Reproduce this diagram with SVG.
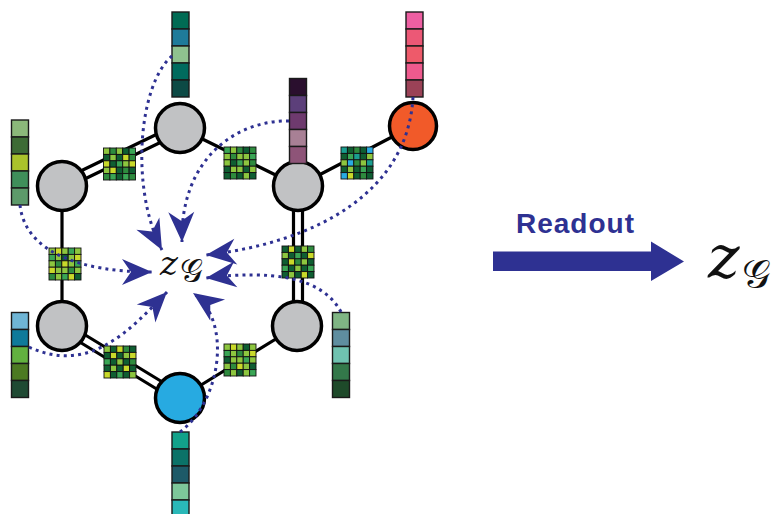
<svg xmlns="http://www.w3.org/2000/svg" width="775" height="514" viewBox="0 0 775 514">
  <style>
    .edge { stroke: #000; stroke-width: 3.2; fill: none; stroke-linecap: round; }
    .node { stroke: #000; stroke-width: 3.5; }
    .gray { fill: #c1c2c4; }
    .cell { stroke: #1a1a1a; stroke-width: 1.4; }
    .mx rect { stroke: #111; stroke-width: 0.9; }
    .g1 { fill: #0f5e32; } .g2 { fill: #2e8b3e; } .g3 { fill: #8dc63f; }
    .g4 { fill: #c9d92a; } .g5 { fill: #3aa655; } .g6 { fill: #1a9e8f; }
    .g7 { fill: #29abe2; }
    .flow { stroke: #2e3192; stroke-width: 3; fill: none; stroke-dasharray: 3 4.2; marker-end: url(#head); }
    .math { font-family: "DejaVu Serif", "Liberation Serif", serif; font-style: italic; fill: #111; }
    .script { font-family: "DejaVu Serif", "DejaVu Sans", "Liberation Serif", serif; fill: #111; }
  </style>
  <defs>
    <marker id="head" viewBox="0 0 30 26" refX="30" refY="13" markerWidth="30" markerHeight="26" markerUnits="userSpaceOnUse" orient="auto" overflow="visible">
      <path d="M0,0 L30,13 L0,26 L9,13 Z" fill="#2e3192"/>
    </marker>
  </defs>

  <rect width="775" height="514" fill="#fff"/>

  <!-- graph bonds -->
  <g id="bonds">
    <line class="edge" x1="182" y1="132" x2="64" y2="189"/>
    <line class="edge" x1="178" y1="124" x2="60" y2="181"/>
    <line class="edge" x1="180" y1="128" x2="298" y2="186"/>
    <line class="edge" x1="298" y1="186" x2="413" y2="126"/>
    <line class="edge" x1="62" y1="186" x2="62" y2="326"/>
    <line class="edge" x1="293.5" y1="186" x2="293.5" y2="326"/>
    <line class="edge" x1="302.5" y1="186" x2="302.5" y2="326"/>
    <line class="edge" x1="60" y1="330" x2="178" y2="402"/>
    <line class="edge" x1="64" y1="322" x2="182" y2="394"/>
    <line class="edge" x1="297" y1="326" x2="180" y2="398"/>
  </g>

  <!-- edge feature matrices -->
  <g id="edge-m1" class="mx" transform="translate(103.5,148)">
    <rect class="g3" x="0" y="0" width="6.4" height="6.4"/><rect class="g2" x="6.4" y="0" width="6.4" height="6.4"/><rect class="g3" x="12.8" y="0" width="6.4" height="6.4"/><rect class="g1" x="19.2" y="0" width="6.4" height="6.4"/><rect class="g5" x="25.6" y="0" width="6.4" height="6.4"/>
    <rect class="g1" x="0" y="6.4" width="6.4" height="6.4"/><rect class="g3" x="6.4" y="6.4" width="6.4" height="6.4"/><rect class="g1" x="12.8" y="6.4" width="6.4" height="6.4"/><rect class="g4" x="19.2" y="6.4" width="6.4" height="6.4"/><rect class="g2" x="25.6" y="6.4" width="6.4" height="6.4"/>
    <rect class="g4" x="0" y="12.8" width="6.4" height="6.4"/><rect class="g1" x="6.4" y="12.8" width="6.4" height="6.4"/><rect class="g5" x="12.8" y="12.8" width="6.4" height="6.4"/><rect class="g3" x="19.2" y="12.8" width="6.4" height="6.4"/><rect class="g4" x="25.6" y="12.8" width="6.4" height="6.4"/>
    <rect class="g3" x="0" y="19.2" width="6.4" height="6.4"/><rect class="g4" x="6.4" y="19.2" width="6.4" height="6.4"/><rect class="g1" x="12.8" y="19.2" width="6.4" height="6.4"/><rect class="g2" x="19.2" y="19.2" width="6.4" height="6.4"/><rect class="g1" x="25.6" y="19.2" width="6.4" height="6.4"/>
    <rect class="g2" x="0" y="25.6" width="6.4" height="6.4"/><rect class="g5" x="6.4" y="25.6" width="6.4" height="6.4"/><rect class="g1" x="12.8" y="25.6" width="6.4" height="6.4"/><rect class="g5" x="19.2" y="25.6" width="6.4" height="6.4"/><rect class="g2" x="25.6" y="25.6" width="6.4" height="6.4"/>
  </g>
  <g id="edge-m2" class="mx" transform="translate(224,147)">
    <rect class="g5" x="0" y="0" width="6.4" height="6.4"/><rect class="g3" x="6.4" y="0" width="6.4" height="6.4"/><rect class="g2" x="12.8" y="0" width="6.4" height="6.4"/><rect class="g1" x="19.2" y="0" width="6.4" height="6.4"/><rect class="g2" x="25.6" y="0" width="6.4" height="6.4"/>
    <rect class="g3" x="0" y="6.4" width="6.4" height="6.4"/><rect class="g2" x="6.4" y="6.4" width="6.4" height="6.4"/><rect class="g3" x="12.8" y="6.4" width="6.4" height="6.4"/><rect class="g3" x="19.2" y="6.4" width="6.4" height="6.4"/><rect class="g5" x="25.6" y="6.4" width="6.4" height="6.4"/>
    <rect class="g3" x="0" y="12.8" width="6.4" height="6.4"/><rect class="g1" x="6.4" y="12.8" width="6.4" height="6.4"/><rect class="g5" x="12.8" y="12.8" width="6.4" height="6.4"/><rect class="g3" x="19.2" y="12.8" width="6.4" height="6.4"/><rect class="g2" x="25.6" y="12.8" width="6.4" height="6.4"/>
    <rect class="g1" x="0" y="19.2" width="6.4" height="6.4"/><rect class="g3" x="6.4" y="19.2" width="6.4" height="6.4"/><rect class="g3" x="12.8" y="19.2" width="6.4" height="6.4"/><rect class="g1" x="19.2" y="19.2" width="6.4" height="6.4"/><rect class="g3" x="25.6" y="19.2" width="6.4" height="6.4"/>
    <rect class="g1" x="0" y="25.6" width="6.4" height="6.4"/><rect class="g2" x="6.4" y="25.6" width="6.4" height="6.4"/><rect class="g1" x="12.8" y="25.6" width="6.4" height="6.4"/><rect class="g3" x="19.2" y="25.6" width="6.4" height="6.4"/><rect class="g1" x="25.6" y="25.6" width="6.4" height="6.4"/>
  </g>
  <g id="edge-m3" class="mx" transform="translate(341,147)">
    <rect class="g6" x="0" y="0" width="6.4" height="6.4"/><rect class="g1" x="6.4" y="0" width="6.4" height="6.4"/><rect class="g2" x="12.8" y="0" width="6.4" height="6.4"/><rect class="g1" x="19.2" y="0" width="6.4" height="6.4"/><rect class="g7" x="25.6" y="0" width="6.4" height="6.4"/>
    <rect class="g1" x="0" y="6.4" width="6.4" height="6.4"/><rect class="g5" x="6.4" y="6.4" width="6.4" height="6.4"/><rect class="g6" x="12.8" y="6.4" width="6.4" height="6.4"/><rect class="g1" x="19.2" y="6.4" width="6.4" height="6.4"/><rect class="g3" x="25.6" y="6.4" width="6.4" height="6.4"/>
    <rect class="g3" x="0" y="12.8" width="6.4" height="6.4"/><rect class="g7" x="6.4" y="12.8" width="6.4" height="6.4"/><rect class="g2" x="12.8" y="12.8" width="6.4" height="6.4"/><rect class="g3" x="19.2" y="12.8" width="6.4" height="6.4"/><rect class="g6" x="25.6" y="12.8" width="6.4" height="6.4"/>
    <rect class="g1" x="0" y="19.2" width="6.4" height="6.4"/><rect class="g3" x="6.4" y="19.2" width="6.4" height="6.4"/><rect class="g1" x="12.8" y="19.2" width="6.4" height="6.4"/><rect class="g5" x="19.2" y="19.2" width="6.4" height="6.4"/><rect class="g1" x="25.6" y="19.2" width="6.4" height="6.4"/>
    <rect class="g7" x="0" y="25.6" width="6.4" height="6.4"/><rect class="g4" x="6.4" y="25.6" width="6.4" height="6.4"/><rect class="g1" x="12.8" y="25.6" width="6.4" height="6.4"/><rect class="g2" x="19.2" y="25.6" width="6.4" height="6.4"/><rect class="g1" x="25.6" y="25.6" width="6.4" height="6.4"/>
  </g>
  <g id="edge-m4" class="mx" transform="translate(49,248)">
    <rect class="g3" x="0" y="0" width="6.4" height="6.4"/><rect class="g4" x="6.4" y="0" width="6.4" height="6.4"/><rect class="g3" x="12.8" y="0" width="6.4" height="6.4"/><rect class="g5" x="19.2" y="0" width="6.4" height="6.4"/><rect class="g3" x="25.6" y="0" width="6.4" height="6.4"/>
    <rect class="g5" x="0" y="6.4" width="6.4" height="6.4"/><rect class="g3" x="6.4" y="6.4" width="6.4" height="6.4"/><rect class="g1" x="12.8" y="6.4" width="6.4" height="6.4"/><rect class="g3" x="19.2" y="6.4" width="6.4" height="6.4"/><rect class="g4" x="25.6" y="6.4" width="6.4" height="6.4"/>
    <rect class="g3" x="0" y="12.8" width="6.4" height="6.4"/><rect class="g2" x="6.4" y="12.8" width="6.4" height="6.4"/><rect class="g4" x="12.8" y="12.8" width="6.4" height="6.4"/><rect class="g3" x="19.2" y="12.8" width="6.4" height="6.4"/><rect class="g5" x="25.6" y="12.8" width="6.4" height="6.4"/>
    <rect class="g4" x="0" y="19.2" width="6.4" height="6.4"/><rect class="g3" x="6.4" y="19.2" width="6.4" height="6.4"/><rect class="g3" x="12.8" y="19.2" width="6.4" height="6.4"/><rect class="g2" x="19.2" y="19.2" width="6.4" height="6.4"/><rect class="g3" x="25.6" y="19.2" width="6.4" height="6.4"/>
    <rect class="g2" x="0" y="25.6" width="6.4" height="6.4"/><rect class="g3" x="6.4" y="25.6" width="6.4" height="6.4"/><rect class="g5" x="12.8" y="25.6" width="6.4" height="6.4"/><rect class="g4" x="19.2" y="25.6" width="6.4" height="6.4"/><rect class="g1" x="25.6" y="25.6" width="6.4" height="6.4"/>
  </g>
  <g id="edge-m5" class="mx" transform="translate(282,246)">
    <rect class="g1" x="0" y="0" width="6.4" height="6.4"/><rect class="g4" x="6.4" y="0" width="6.4" height="6.4"/><rect class="g1" x="12.8" y="0" width="6.4" height="6.4"/><rect class="g3" x="19.2" y="0" width="6.4" height="6.4"/><rect class="g2" x="25.6" y="0" width="6.4" height="6.4"/>
    <rect class="g3" x="0" y="6.4" width="6.4" height="6.4"/><rect class="g1" x="6.4" y="6.4" width="6.4" height="6.4"/><rect class="g5" x="12.8" y="6.4" width="6.4" height="6.4"/><rect class="g1" x="19.2" y="6.4" width="6.4" height="6.4"/><rect class="g4" x="25.6" y="6.4" width="6.4" height="6.4"/>
    <rect class="g1" x="0" y="12.8" width="6.4" height="6.4"/><rect class="g4" x="6.4" y="12.8" width="6.4" height="6.4"/><rect class="g2" x="12.8" y="12.8" width="6.4" height="6.4"/><rect class="g3" x="19.2" y="12.8" width="6.4" height="6.4"/><rect class="g1" x="25.6" y="12.8" width="6.4" height="6.4"/>
    <rect class="g5" x="0" y="19.2" width="6.4" height="6.4"/><rect class="g1" x="6.4" y="19.2" width="6.4" height="6.4"/><rect class="g3" x="12.8" y="19.2" width="6.4" height="6.4"/><rect class="g1" x="19.2" y="19.2" width="6.4" height="6.4"/><rect class="g5" x="25.6" y="19.2" width="6.4" height="6.4"/>
    <rect class="g1" x="0" y="25.6" width="6.4" height="6.4"/><rect class="g3" x="6.4" y="25.6" width="6.4" height="6.4"/><rect class="g1" x="12.8" y="25.6" width="6.4" height="6.4"/><rect class="g4" x="19.2" y="25.6" width="6.4" height="6.4"/><rect class="g1" x="25.6" y="25.6" width="6.4" height="6.4"/>
  </g>
  <g id="edge-m6" class="mx" transform="translate(104,346)">
    <rect class="g3" x="0" y="0" width="6.4" height="6.4"/><rect class="g1" x="6.4" y="0" width="6.4" height="6.4"/><rect class="g4" x="12.8" y="0" width="6.4" height="6.4"/><rect class="g2" x="19.2" y="0" width="6.4" height="6.4"/><rect class="g1" x="25.6" y="0" width="6.4" height="6.4"/>
    <rect class="g1" x="0" y="6.4" width="6.4" height="6.4"/><rect class="g4" x="6.4" y="6.4" width="6.4" height="6.4"/><rect class="g1" x="12.8" y="6.4" width="6.4" height="6.4"/><rect class="g3" x="19.2" y="6.4" width="6.4" height="6.4"/><rect class="g4" x="25.6" y="6.4" width="6.4" height="6.4"/>
    <rect class="g5" x="0" y="12.8" width="6.4" height="6.4"/><rect class="g1" x="6.4" y="12.8" width="6.4" height="6.4"/><rect class="g3" x="12.8" y="12.8" width="6.4" height="6.4"/><rect class="g1" x="19.2" y="12.8" width="6.4" height="6.4"/><rect class="g2" x="25.6" y="12.8" width="6.4" height="6.4"/>
    <rect class="g1" x="0" y="19.2" width="6.4" height="6.4"/><rect class="g3" x="6.4" y="19.2" width="6.4" height="6.4"/><rect class="g1" x="12.8" y="19.2" width="6.4" height="6.4"/><rect class="g4" x="19.2" y="19.2" width="6.4" height="6.4"/><rect class="g1" x="25.6" y="19.2" width="6.4" height="6.4"/>
    <rect class="g4" x="0" y="25.6" width="6.4" height="6.4"/><rect class="g1" x="6.4" y="25.6" width="6.4" height="6.4"/><rect class="g5" x="12.8" y="25.6" width="6.4" height="6.4"/><rect class="g1" x="19.2" y="25.6" width="6.4" height="6.4"/><rect class="g3" x="25.6" y="25.6" width="6.4" height="6.4"/>
  </g>
  <g id="edge-m7" class="mx" transform="translate(224,344)">
    <rect class="g3" x="0" y="0" width="6.4" height="6.4"/><rect class="g4" x="6.4" y="0" width="6.4" height="6.4"/><rect class="g3" x="12.8" y="0" width="6.4" height="6.4"/><rect class="g1" x="19.2" y="0" width="6.4" height="6.4"/><rect class="g3" x="25.6" y="0" width="6.4" height="6.4"/>
    <rect class="g5" x="0" y="6.4" width="6.4" height="6.4"/><rect class="g3" x="6.4" y="6.4" width="6.4" height="6.4"/><rect class="g2" x="12.8" y="6.4" width="6.4" height="6.4"/><rect class="g3" x="19.2" y="6.4" width="6.4" height="6.4"/><rect class="g4" x="25.6" y="6.4" width="6.4" height="6.4"/>
    <rect class="g1" x="0" y="12.8" width="6.4" height="6.4"/><rect class="g3" x="6.4" y="12.8" width="6.4" height="6.4"/><rect class="g3" x="12.8" y="12.8" width="6.4" height="6.4"/><rect class="g5" x="19.2" y="12.8" width="6.4" height="6.4"/><rect class="g3" x="25.6" y="12.8" width="6.4" height="6.4"/>
    <rect class="g3" x="0" y="19.2" width="6.4" height="6.4"/><rect class="g2" x="6.4" y="19.2" width="6.4" height="6.4"/><rect class="g4" x="12.8" y="19.2" width="6.4" height="6.4"/><rect class="g3" x="19.2" y="19.2" width="6.4" height="6.4"/><rect class="g1" x="25.6" y="19.2" width="6.4" height="6.4"/>
    <rect class="g2" x="0" y="25.6" width="6.4" height="6.4"/><rect class="g3" x="6.4" y="25.6" width="6.4" height="6.4"/><rect class="g1" x="12.8" y="25.6" width="6.4" height="6.4"/><rect class="g3" x="19.2" y="25.6" width="6.4" height="6.4"/><rect class="g5" x="25.6" y="25.6" width="6.4" height="6.4"/>
  </g>

  <!-- atoms -->
  <g id="atom-top"><circle class="node gray" cx="180" cy="128" r="24.5"/></g>
  <g id="atom-upper-right"><circle class="node gray" cx="298" cy="186" r="24.5"/></g>
  <g id="atom-left-upper"><circle class="node gray" cx="62" cy="186" r="24.5"/></g>
  <g id="atom-left-lower"><circle class="node gray" cx="62" cy="326" r="24.5"/></g>
  <g id="atom-right-lower"><circle class="node gray" cx="297" cy="326" r="24.5"/></g>
  <g id="atom-orange"><circle class="node" cx="413" cy="126" r="23.5" fill="#f15a29"/></g>
  <g id="atom-blue"><circle class="node" cx="180" cy="398" r="24.5" fill="#27aae1"/></g>

  <!-- node feature vectors -->
  <g id="vec-top">
    <rect class="cell" x="172" y="12" width="17" height="17" fill="#006b54"/>
    <rect class="cell" x="172" y="29" width="17" height="17" fill="#1f7b9a"/>
    <rect class="cell" x="172" y="46" width="17" height="17" fill="#8fc28f"/>
    <rect class="cell" x="172" y="63" width="17" height="17" fill="#006b5e"/>
    <rect class="cell" x="172" y="80" width="17" height="17" fill="#0d4a45"/>
  </g>
  <g id="vec-orange">
    <rect class="cell" x="406" y="12" width="17" height="17" fill="#ee5fa2"/>
    <rect class="cell" x="406" y="29" width="17" height="17" fill="#ec5876"/>
    <rect class="cell" x="406" y="46" width="17" height="17" fill="#ee5a6a"/>
    <rect class="cell" x="406" y="63" width="17" height="17" fill="#ef5a8e"/>
    <rect class="cell" x="406" y="80" width="17" height="17" fill="#9b4257"/>
  </g>
  <g id="vec-purple">
    <rect class="cell" x="289.5" y="78.5" width="17" height="17" fill="#2a0f2e"/>
    <rect class="cell" x="289.5" y="95.5" width="17" height="17" fill="#5c3f7a"/>
    <rect class="cell" x="289.5" y="112.5" width="17" height="17" fill="#6e3a6e"/>
    <rect class="cell" x="289.5" y="129.5" width="17" height="17" fill="#a88095"/>
    <rect class="cell" x="289.5" y="146.5" width="17" height="17" fill="#8e5478"/>
  </g>
  <g id="vec-left-upper">
    <rect class="cell" x="11.5" y="120" width="17" height="17" fill="#8bb87a"/>
    <rect class="cell" x="11.5" y="137" width="17" height="17" fill="#3d6b35"/>
    <rect class="cell" x="11.5" y="154" width="17" height="17" fill="#aac22c"/>
    <rect class="cell" x="11.5" y="171" width="17" height="17" fill="#3f8f5a"/>
    <rect class="cell" x="11.5" y="188" width="17" height="17" fill="#5d9a6a"/>
  </g>
  <g id="vec-left-lower">
    <rect class="cell" x="11.5" y="312.5" width="17" height="17" fill="#6fb5d5"/>
    <rect class="cell" x="11.5" y="329.5" width="17" height="17" fill="#0f7a9a"/>
    <rect class="cell" x="11.5" y="346.5" width="17" height="17" fill="#62b13f"/>
    <rect class="cell" x="11.5" y="363.5" width="17" height="17" fill="#4c7a22"/>
    <rect class="cell" x="11.5" y="380.5" width="17" height="17" fill="#1f4a33"/>
  </g>
  <g id="vec-right-lower">
    <rect class="cell" x="332.5" y="312.5" width="17" height="17" fill="#7fb584"/>
    <rect class="cell" x="332.5" y="329.5" width="17" height="17" fill="#5f8ea0"/>
    <rect class="cell" x="332.5" y="346.5" width="17" height="17" fill="#6fc2b0"/>
    <rect class="cell" x="332.5" y="363.5" width="17" height="17" fill="#33784a"/>
    <rect class="cell" x="332.5" y="380.5" width="17" height="17" fill="#1e4a2a"/>
  </g>
  <g id="vec-bottom">
    <rect class="cell" x="172" y="432" width="17" height="17" fill="#12a28a"/>
    <rect class="cell" x="172" y="449" width="17" height="17" fill="#0b7268"/>
    <rect class="cell" x="172" y="466" width="17" height="17" fill="#1d5a68"/>
    <rect class="cell" x="172" y="483" width="17" height="17" fill="#7dc79a"/>
    <rect class="cell" x="172" y="500" width="17" height="17" fill="#2ab8b8"/>
  </g>

  <!-- aggregation flows into the graph embedding -->
  <g id="connectors">
    <path class="flow" d="M172,56 C138,85 130,190 162,250"/>
    <path class="flow" d="M289,121 C235,120 180,160 182,242"/>
    <path class="flow" d="M413,97 C408,190 320,242 206,255"/>
    <path class="flow" d="M341,312 C322,276 270,270 206,278"/>
    <path class="flow" d="M20,205 C25,252 80,272 152,272"/>
    <path class="flow" d="M29,347 C90,375 130,330 167,292"/>
    <path class="flow" d="M180,432 C222,400 232,320 193,293"/>
  </g>

  <!-- graph embedding label -->
  <g id="embedding">
    <text class="math" x="160" y="275" font-size="34">z</text>
    <text class="script" x="180" y="282" font-size="32">𝒢</text>
  </g>

  <!-- readout step -->
  <g id="readout">
    <text x="516" y="233" font-family="'Liberation Sans', Arial, sans-serif" font-weight="bold" font-size="28" letter-spacing="1" fill="#2e3192">Readout</text>
    <path d="M493,251.5 L651,251.5 L651,241.5 L684,261.5 L651,281 L651,271 L493,271 Z" fill="#2e3192"/>
  </g>

  <g id="output">
    <text class="math" x="708" y="278" font-size="60">z</text>
    <text class="script" x="742" y="288" font-size="40">𝒢</text>
  </g>
</svg>
